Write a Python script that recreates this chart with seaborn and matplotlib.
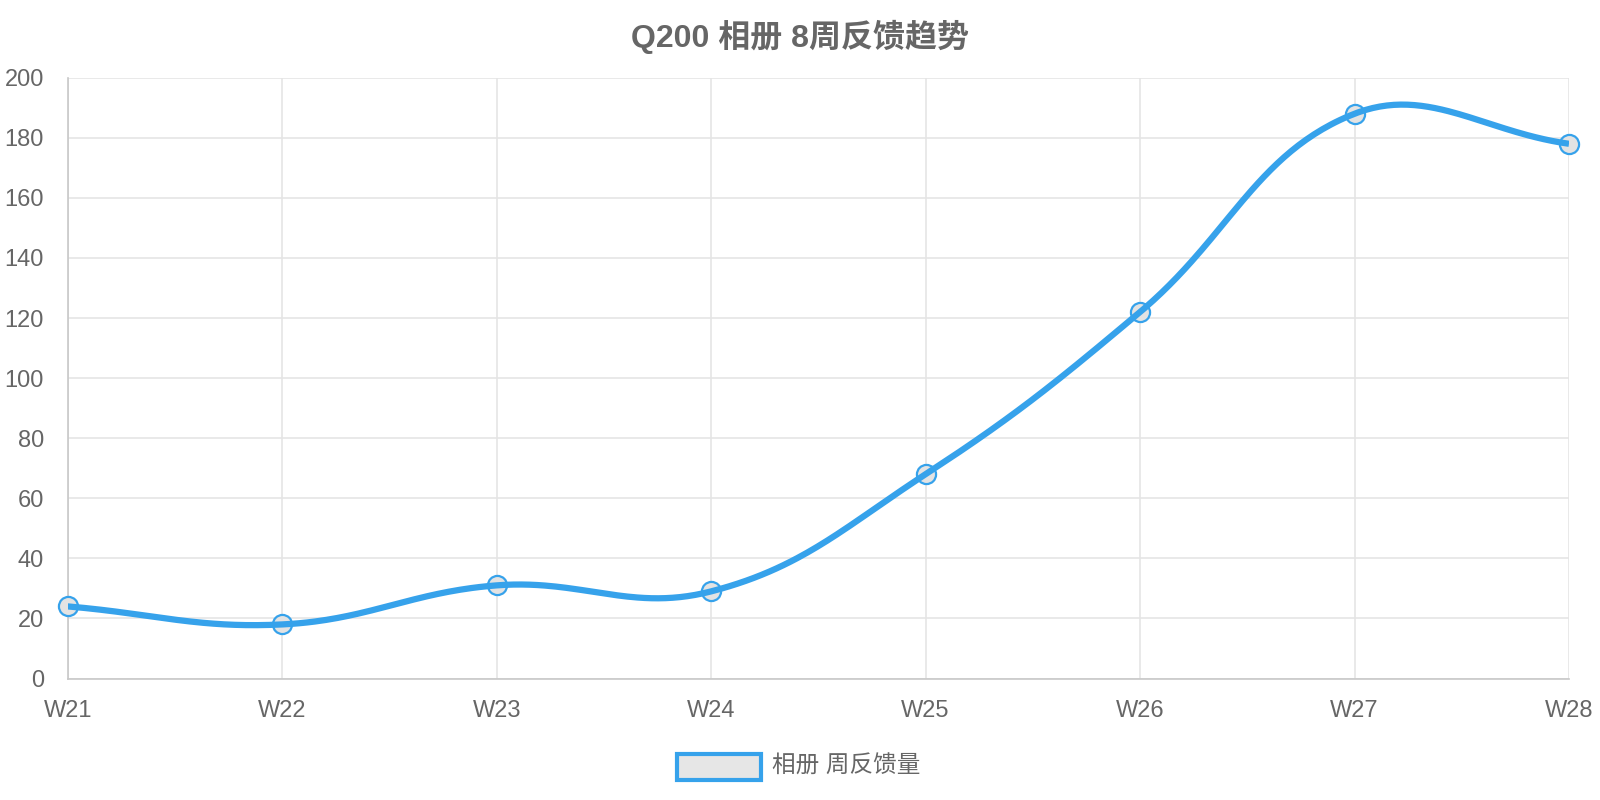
import numpy as np
import pandas as pd
import seaborn as sns
import matplotlib.pyplot as plt
from matplotlib.patches import Rectangle

weeks = ['W21', 'W22', 'W23', 'W24', 'W25', 'W26', 'W27', 'W28']
feedback = [24, 18, 31, 29, 68, 122, 188, 178]
title = 'Q200 相册 8周反馈趋势'
series_name = '相册 周反馈量'

sns.set_theme(style='white')
plt.rcParams['font.family'] = ['Liberation Sans', 'Noto Sans CJK SC', 'DejaVu Sans']

df = pd.DataFrame({'week': weeks, 'value': feedback, 'x': range(len(weeks))})

W, H = 1600, 800
fig = plt.figure(figsize=(16, 8), dpi=100)
left, right, top, bottom = 67.7, 1569, 77.7, 678.5
ax = fig.add_axes([left / W, 1 - bottom / H, (right - left) / W, (bottom - top) / H])

blue = '#36a2eb'
grey = '#666666'

# chart.js style spline (tension 0.4), done in pixel space
sx = (right - left) / (len(weeks) - 1)
sy = (bottom - top) / 200
px = df['x'].to_numpy() * sx
py = df['value'].to_numpy() * sy
n = len(px)
cps = []
for i in range(n):
    prev = (px[max(i - 1, 0)], py[max(i - 1, 0)])
    nxt = (px[min(i + 1, n - 1)], py[min(i + 1, n - 1)])
    cur = (px[i], py[i])
    d01 = np.hypot(cur[0] - prev[0], cur[1] - prev[1])
    d12 = np.hypot(nxt[0] - cur[0], nxt[1] - cur[1])
    tot = d01 + d12
    fa = 0.4 * d01 / tot if tot else 0
    fb = 0.4 * d12 / tot if tot else 0
    c1 = (cur[0] - fa * (nxt[0] - prev[0]), cur[1] - fa * (nxt[1] - prev[1]))
    c2 = (cur[0] + fb * (nxt[0] - prev[0]), cur[1] + fb * (nxt[1] - prev[1]))
    cps.append((c1, c2))

cx, cy = [], []
t = np.linspace(0, 1, 60)[:, None]
for i in range(n - 1):
    p0 = np.array([px[i], py[i]])
    p1 = np.array(cps[i][1])
    p2 = np.array(cps[i + 1][0])
    p3 = np.array([px[i + 1], py[i + 1]])
    b = (1 - t) ** 3 * p0 + 3 * (1 - t) ** 2 * t * p1 + 3 * (1 - t) * t ** 2 * p2 + t ** 3 * p3
    cx.extend(b[:, 0] / sx)
    cy.extend(b[:, 1] / sy)

sns.scatterplot(data=df, x='x', y='value', ax=ax, s=190, color='#e3e3e3',
                edgecolor=blue, linewidth=1.6, zorder=3, legend=False, clip_on=False)
ax.plot(cx, cy, color=blue, linewidth=4.5, zorder=4, solid_capstyle='butt')

ax.set_xlim(0, n - 1)
ax.set_ylim(0, 200)
ax.set_yticks(range(0, 201, 20))
ax.set_xticks(range(n))
ax.set_xticklabels(weeks)
ax.set_xlabel('')
ax.set_ylabel('')
ax.grid(True, color='#e5e5e5', linewidth=1.2)
ax.set_axisbelow(True)
for side in ['top', 'right']:
    ax.spines[side].set_visible(False)
for side in ['left', 'bottom']:
    ax.spines[side].set_color('#c8c8c8')
    ax.spines[side].set_linewidth(1.2)
ax.tick_params(axis='both', colors='#e5e5e5', labelcolor=grey, labelsize=17,
               length=11.5, width=1.2, direction='out')
ax.tick_params(axis='y', pad=5.5)
ax.tick_params(axis='x', pad=4)

fig.text(0.5, 1 - 37 / H, title, ha='center', va='center', fontsize=23,
         fontweight='bold', color=grey)

# legend
fig.patches.append(Rectangle((677 / W, 1 - 780 / H), 84 / W, 26 / H,
                             transform=fig.transFigure, facecolor='#e6e6e6',
                             edgecolor=blue, linewidth=3))
fig.text(772 / W, 1 - 767 / H, series_name, ha='left', va='center',
         fontsize=17, color=grey)

fig.savefig('out.png', dpi=100)
